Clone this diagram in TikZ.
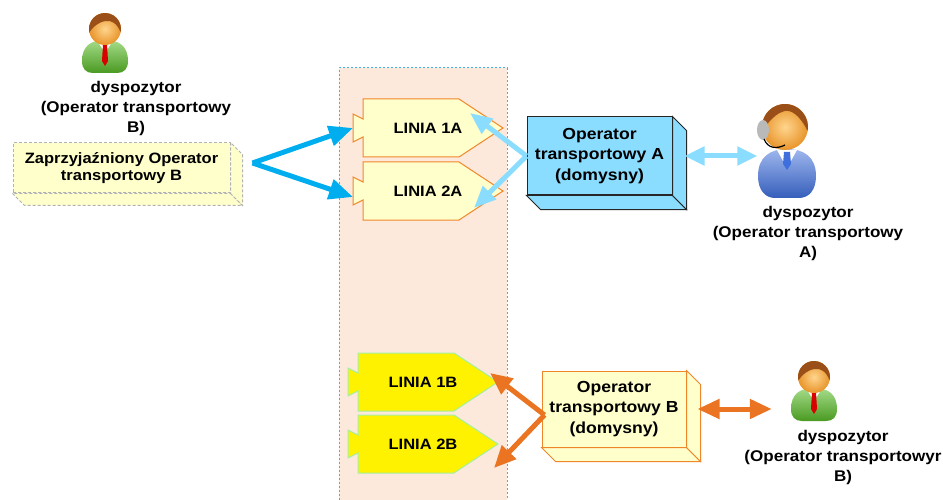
\documentclass[tikz,border=0pt]{standalone}
\usepackage{fontspec}
\setmainfont{Liberation Sans}[FakeStretch=1.1]
\usetikzlibrary{arrows.meta}

\definecolor{peach}{HTML}{FCE9DC}
\definecolor{laneblue}{HTML}{3DB4E6}
\definecolor{paleyellow}{HTML}{FFFFCC}
\definecolor{linorange}{HTML}{F0862A}
\definecolor{palegreen}{HTML}{A6EFA0}
\definecolor{skyblue}{HTML}{8BDDFF}
\definecolor{deepsky}{HTML}{00AEEF}
\definecolor{arroworange}{HTML}{EA7421}
\definecolor{skinlight}{HTML}{FFD58E}
\definecolor{skindark}{HTML}{E8942A}
\definecolor{hair}{HTML}{9A4F18}
\definecolor{guygreen}{HTML}{5CC02A}
\definecolor{suitblue}{HTML}{3F6FDC}

% LINIA piece: style, name, top-left corner of the body, text
\newcommand{\linia}[4]{%
  \begin{scope}[shift={#3}]
    \draw[#1] (0,0) -- (96,0) -- (140,29) -- (96,58) -- (0,58) -- (0,38)
              -- (-10,43) -- (-10,15) -- (0,20) -- cycle;
    \node[liniatext] (#2) at (65,29) {#4};
    \coordinate (#2-tab) at (-10,29);
    \coordinate (#2-tip) at (140,29);
  \end{scope}}

% bottom and right faces behind a box node: style, node, depth
\newcommand{\slab}[3]{%
  \draw[#1] (#2.south west) -- ++(#3,#3) -- ([shift={(#3,#3)}]#2.south east)
            -- (#2.south east) -- cycle;
  \draw[#1] (#2.south east) -- ++(#3,#3) -- ([shift={(#3,#3)}]#2.north east)
            -- (#2.north east) -- cycle;}

% dispatcher in a green shirt: centre x, top y
\newcommand{\greenguy}[2]{%
  \begin{scope}[shift={(#1,#2)}]
    \shade[top color=guygreen!55!white, bottom color=guygreen!80!black]
      (-23,48) .. controls (-23,33) and (-14,27) .. (0,27) .. controls (14,27) and (23,33) .. (23,48)
      .. controls (23,56) and (19,60) .. (12,60) -- (-12,60) .. controls (-19,60) and (-23,56) .. (-23,48) -- cycle;
    \fill[white] (-7,29) -- (7,29) -- (0,40) -- cycle;
    \fill[red!85!black] (-2,31) -- (2,31) -- (3,48) -- (0,53) -- (-3,48) -- cycle;
    \shade[inner color=skinlight, outer color=skindark] (0,16) circle (16);
    \fill[hair] (0,16) ++(168:16) arc (168:372:16)
      .. controls (12,10) and (6,7) .. (1,8) .. controls (-7,9) and (-12,14) .. cycle;
  \end{scope}}

% dispatcher with a headset: centre x, top y
\newcommand{\headsetguy}[2]{%
  \begin{scope}[shift={(#1,#2)}]
    \shade[top color=suitblue!50!white, bottom color=suitblue!85!black]
      (-29,74) .. controls (-29,55) and (-17,47) .. (0,47) .. controls (17,47) and (29,55) .. (29,74)
      .. controls (29,88) and (22,96) .. (12,96) -- (-12,96) .. controls (-22,96) and (-29,88) .. (-29,74) -- cycle;
    \fill[white] (-10,48) -- (10,48) -- (0,66) -- cycle;
    \fill[suitblue] (-3,50) -- (3,50) -- (4,62) -- (0,68) -- (-4,62) -- cycle;
    \shade[inner color=skinlight, outer color=skindark] (-2,25) circle (23);
    \fill[hair] (-2,25) ++(170:23) arc (170:370:23)
      .. controls (12,12) and (4,8) .. (-2,9) .. controls (-11,11) and (-18,19) .. cycle;
    \fill[gray!55] (-24,28) ellipse (6 and 10);
    \draw[black, line width=1.2pt] (-23,37) .. controls (-19,47) and (-10,47) .. (-2,43);
  \end{scope}}

\begin{document}
\begin{tikzpicture}[x=1pt, y=-1pt,
    linA/.style={draw=linorange, fill=paleyellow, line width=1pt},
    linB/.style={draw=palegreen, fill=yellow, line width=1pt},
    liniatext/.style={font=\fontsize{15}{18}\selectfont\bfseries},
    opbox/.style={font=\fontsize{16}{20.5}\selectfont\bfseries, align=center, inner sep=0pt, line width=1pt},
    lbl/.style={font=\fontsize{15.5}{20}\selectfont\bfseries, align=center},
    bluearrow/.style={deepsky, line width=5pt, -{Triangle[length=24pt,width=20pt]}},
    skyarrow/.style={skyblue, line width=5pt, -{Triangle[length=22pt,width=18pt]}},
    orangearrow/.style={arroworange, line width=5pt, -{Triangle[length=22pt,width=19pt]}}]
  \useasboundingbox (0,0) rectangle (943,500);

  % lane with the lines
  \fill[peach] (339,68) rectangle (507,500);
  \draw[laneblue, line width=1pt, dash pattern=on 2pt off 2pt] (339,500) -- (339,68) -- (507,68) -- (507,500);

  \linia{linA}{l1a}{(363,99)}{LINIA 1A}
  \linia{linA}{l2a}{(363,162)}{LINIA 2A}
  \linia{linB}{l1b}{(358,353)}{LINIA 1B}
  \linia{linB}{l2b}{(358,415)}{LINIA 2B}

  % operators
  \node[opbox, draw=black!85, fill=skyblue, minimum width=145pt, minimum height=78pt] (opA) at (599.5,156)
    {Operator\\transportowy A\\(domysny)};
  \slab{draw=black!85, fill=skyblue, line width=1pt}{opA}{14}
  \node[opbox, draw=linorange, fill=paleyellow, minimum width=144pt, minimum height=76pt] (opB) at (614,409)
    {Operator\\transportowy B\\(domysny)};
  \slab{draw=linorange, fill=paleyellow, line width=1pt}{opB}{14}
  \node[opbox, font=\fontsize{15}{17.5}\selectfont\bfseries, draw=black!30, dash pattern=on 3pt off 2pt,
        fill=paleyellow, minimum width=217pt, minimum height=50pt] (zap) at (121.5,168)
    {Zaprzyjaźniony Operator\\transportowy B};
  \slab{draw=black!30, dash pattern=on 3pt off 2pt, fill=paleyellow, line width=1pt}{zap}{12}

  % dispatchers
  \greenguy{105}{13}
  \headsetguy{787}{102}
  \greenguy{814}{361}
  \node[minimum width=59pt, minimum height=96pt, inner sep=0pt] (dispA) at (787,150) {};
  \node[minimum width=48pt, minimum height=61pt, inner sep=0pt] (dispB) at (814,391) {};
  \node[lbl] (lblTop) at (136,108.5) {dyspozytor\\(Operator transportowy\\B)};
  \node[lbl] (lblA) at (808,233) {dyspozytor\\(Operator transportowy\\A)};
  \node[lbl] (lblB) at (843,457) {dyspozytor\\(Operator transportowyr\\B)};

  % connections
  \coordinate (fork) at ([shift={(22,-5)}]zap.east);
  \draw[bluearrow] (fork) -- (l1a-tab);
  \draw[bluearrow] (fork) -- ([shift={(0,6)}]l2a-tab);
  \draw[skyarrow] (opA.west) -- ([shift={(-33,-15)}]l1a-tip);
  \draw[skyarrow] (opA.west) -- ([shift={(-29,17)}]l2a-tip);
  \draw[skyarrow, {Triangle[length=20pt,width=18pt]}-{Triangle[length=20pt,width=18pt]}]
    ([xshift=12pt]opA.east) -- (opA.east -| dispA.west);
  \draw[orangearrow] ([shift={(3,6)}]opB.west) -- ([shift={(-8,-9)}]l1b-tip);
  \draw[orangearrow] ([shift={(3,6)}]opB.west) -- ([shift={(-4,24)}]l2b-tip);
  \draw[orangearrow, {Triangle[length=22pt,width=19pt]}-{Triangle[length=22pt,width=19pt]}, shorten >=18pt]
    ([xshift=11pt]opB.east) -- (opB.east -| dispB.west);
\end{tikzpicture}
\end{document}
